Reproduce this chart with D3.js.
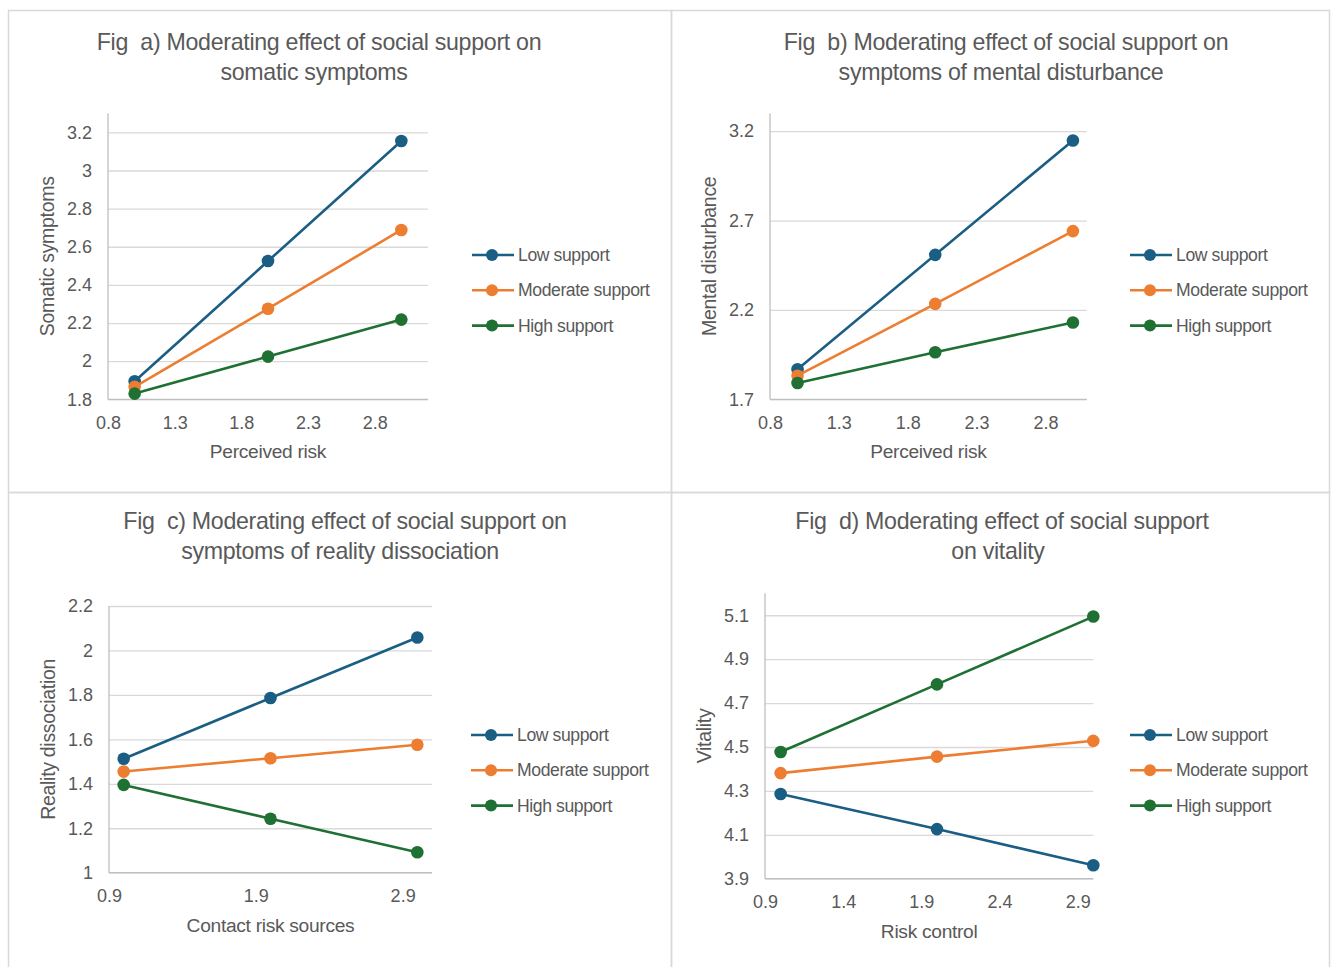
<!DOCTYPE html>
<html>
<head>
<meta charset="utf-8">
<script src="https://cdn.jsdelivr.net/npm/d3@7"></script>
<style>
  html, body { margin: 0; padding: 0; background: #fff; }
  svg { display: block; }
  text { font-family: "Liberation Sans", Arial, sans-serif; fill: #595959; white-space: pre; }
</style>
</head>
<body>
<svg id="chart" width="1332" height="967"></svg>
<script>
// ---------------- DATA ----------------
const seriesNames = ["Low support", "Moderate support", "High support"];
const xLevels = [1, 2, 3];

// Fig a) Somatic symptoms vs Perceived risk
const aLow  = [1.895, 2.525, 3.155];
const aMod  = [1.865, 2.275, 2.688];
const aHigh = [1.830, 2.024, 2.218];
// Fig b) Mental disturbance vs Perceived risk
const bLow  = [1.868, 2.508, 3.148];
const bMod  = [1.832, 2.234, 2.641];
const bHigh = [1.791, 1.963, 2.130];
// Fig c) Reality dissociation vs Contact risk sources
const cLow  = [1.513, 1.786, 2.058];
const cMod  = [1.455, 1.515, 1.576];
const cHigh = [1.395, 1.243, 1.092];
// Fig d) Vitality vs Risk control
const dLow  = [4.286, 4.126, 3.961];
const dMod  = [4.381, 4.456, 4.528];
const dHigh = [4.477, 4.785, 5.094];

// tick labels
const aXTicks = [0.8, 1.3, 1.8, 2.3, 2.8];
const aYTicks = [1.8, 2.0, 2.2, 2.4, 2.6, 2.8, 3.0, 3.2];
const bXTicks = [0.8, 1.3, 1.8, 2.3, 2.8];
const bYTicks = [1.7, 2.2, 2.7, 3.2];
const cXTicks = [0.9, 1.9, 2.9];
const cYTicks = [1.0, 1.2, 1.4, 1.6, 1.8, 2.0, 2.2];
const dXTicks = [0.9, 1.4, 1.9, 2.4, 2.9];
const dYTicks = [3.9, 4.1, 4.3, 4.5, 4.7, 4.9, 5.1];

// titles / axis labels
const aTitle = ["Fig  a) Moderating effect of social support on", "somatic symptoms"];
const bTitle = ["Fig  b) Moderating effect of social support on", "symptoms of mental disturbance"];
const cTitle = ["Fig  c) Moderating effect of social support on", "symptoms of reality dissociation"];
const dTitle = ["Fig  d) Moderating effect of social support", "on vitality"];

// ---------------- STYLE / LAYOUT ----------------
const colors = ["#1b5e84", "#ed7d31", "#1e7033"];
const panels = [
  { box:[8,10,671,492], plot:[108,428,113.3,399.3], xDom:[0.8,3.2], yDom:[1.8,3.3],
    xT:aXTicks, yT:aYTicks, series:[aLow,aMod,aHigh], title:aTitle, titleX:[319,314], titleY:[50,80],
    xLabel:"Perceived risk", yLabel:"Somatic symptoms", legend:[472,255] },
  { box:[671,10,1329,492], plot:[770,1086.7,113.3,399.3], xDom:[0.8,3.1], yDom:[1.7,3.3],
    xT:bXTicks, yT:bYTicks, series:[bLow,bMod,bHigh], title:bTitle, titleX:[1006,1001], titleY:[50,80],
    xLabel:"Perceived risk", yLabel:"Mental disturbance", legend:[1130,255] },
  { box:[8,492,671,980], plot:[109,432,606,872.7], xDom:[0.9,3.1], yDom:[1.0,2.2],
    xT:cXTicks, yT:cYTicks, series:[cLow,cMod,cHigh], title:cTitle, titleX:[345,340], titleY:[529,559],
    xLabel:"Contact risk sources", yLabel:"Reality dissociation", legend:[471,735] },
  { box:[671,492,1329,980], plot:[765,1093.3,593.3,878.7], xDom:[0.9,3.0], yDom:[3.9,5.2],
    xT:dXTicks, yT:dYTicks, series:[dLow,dMod,dHigh], title:dTitle, titleX:[1002,998], titleY:[529,559],
    xLabel:"Risk control", yLabel:"Vitality", legend:[1130,735] }
];

const svg = d3.select("#chart");
svg.append("rect").attr("width",1332).attr("height",967).attr("fill","#fff");
const fmt = d => String(+d.toFixed(1));

panels.forEach(p => {
  const [bx0,by0,bx1,by1] = p.box;
  svg.append("rect").attr("x",bx0+0.5).attr("y",by0+0.5)
    .attr("width",bx1-bx0).attr("height",by1-by0)
    .attr("fill","none").attr("stroke","#d9d9d9").attr("stroke-width",1.5);

  const [L,R,T,B] = p.plot;
  const x = d3.scaleLinear().domain(p.xDom).range([L,R]);
  const y = d3.scaleLinear().domain(p.yDom).range([B,T]);

  // title
  p.title.forEach((t,i) => {
    svg.append("text").attr("x",p.titleX[i]).attr("y",p.titleY[i])
      .attr("text-anchor","middle").style("font-size","23.2px").style("letter-spacing","-0.3px").text(t);
  });

  // y axis with gridlines
  const gy = svg.append("g").attr("transform",`translate(${L},0)`)
    .call(d3.axisLeft(y).tickValues(p.yT).tickSize(-(R-L)).tickPadding(16).tickFormat(fmt));
  gy.select(".domain").remove();
  gy.selectAll(".tick line").attr("stroke","#d9d9d9").attr("stroke-width",1.3);
  gy.selectAll(".tick text").attr("fill","#595959").style("font-size","18px")
    .style("font-family","'Liberation Sans', Arial, sans-serif");

  // x axis
  const gx = svg.append("g").attr("transform",`translate(0,${B})`)
    .call(d3.axisBottom(x).tickValues(p.xT).tickSize(0).tickPadding(17).tickFormat(fmt));
  gx.select(".domain").remove();
  gx.selectAll(".tick text").attr("fill","#595959").style("font-size","18px")
    .style("font-family","'Liberation Sans', Arial, sans-serif");

  // axis lines
  svg.append("line").attr("x1",L).attr("x2",L).attr("y1",T).attr("y2",B)
    .attr("stroke","#bfbfbf").attr("stroke-width",1.3);
  svg.append("line").attr("x1",L).attr("x2",R).attr("y1",B).attr("y2",B)
    .attr("stroke","#bfbfbf").attr("stroke-width",1.3);

  // axis titles
  svg.append("text").attr("x",(L+R)/2).attr("y",B+59).attr("text-anchor","middle")
    .style("font-size","19.2px").style("letter-spacing","-0.3px").text(p.xLabel);
  svg.append("text").attr("transform",`translate(${L-61},${(T+B)/2}) rotate(-90)`)
    .attr("text-anchor","middle").attr("dy","0.35em")
    .style("font-size","19.5px").style("letter-spacing","-0.3px").text(p.yLabel);

  // series
  const line = d3.line().x((d,i)=>x(xLevels[i])).y(d=>y(d));
  p.series.forEach((s,k) => {
    svg.append("path").datum(s).attr("d",line).attr("fill","none")
      .attr("stroke",colors[k]).attr("stroke-width",2.6);
    svg.selectAll(null).data(s).enter().append("circle")
      .attr("cx",(d,i)=>x(xLevels[i])).attr("cy",d=>y(d)).attr("r",6.3).attr("fill",colors[k]);
  });

  // legend
  const [lx,ly] = p.legend;
  seriesNames.forEach((n,k) => {
    const yy = ly + k*35.3;
    svg.append("line").attr("x1",lx).attr("x2",lx+42).attr("y1",yy).attr("y2",yy)
      .attr("stroke",colors[k]).attr("stroke-width",2.6);
    svg.append("circle").attr("cx",lx+20).attr("cy",yy).attr("r",6).attr("fill",colors[k]);
    svg.append("text").attr("x",lx+46).attr("y",yy).attr("dy","0.35em")
      .style("font-size","17.6px").style("letter-spacing","-0.4px").text(n);
  });
});
</script>
</body>
</html>
